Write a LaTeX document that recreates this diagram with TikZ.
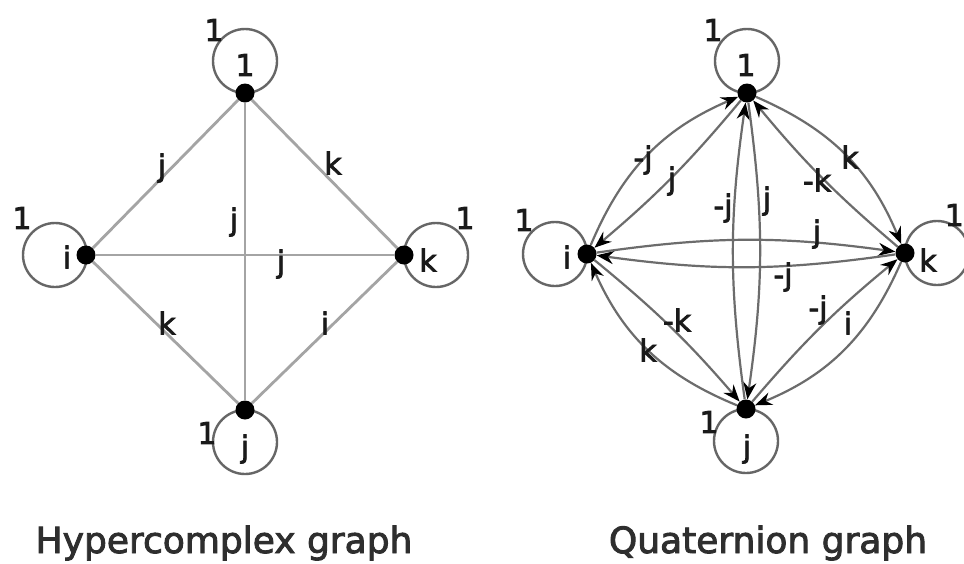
\documentclass[tikz,border=0pt]{standalone}
\usepackage{fontspec}
\setmainfont{DejaVu Sans}
\newfontfamily\lblfont[FakeBold=2.5]{DejaVu Sans}
\usetikzlibrary{arrows.meta}
\definecolor{edgegray}{HTML}{A4A4A4}
\definecolor{loopgray}{HTML}{666666}
\definecolor{curvegray}{HTML}{6C6C6C}
\definecolor{txt}{HTML}{1A1A1A}
\begin{document}
\begin{tikzpicture}[x=1pt,y=-1pt,
  dot/.style={circle,fill=black,inner sep=0pt,minimum size=19pt},
  loopc/.style={circle,draw=loopgray,line width=2.4pt,inner sep=0pt,minimum size=64pt},
  lbl/.style={text=txt,font=\lblfont\fontsize{30}{30}\selectfont,inner sep=0pt},
  hedge/.style={draw=edgegray,line width=2.8pt},
  qedge/.style={draw=curvegray,line width=2.2pt,-{Stealth[length=17pt,width=13pt,color=black]}},
  title/.style={text=black!82,font=\lblfont\fontsize{36}{36}\selectfont,anchor=base,inner sep=0pt}]
\useasboundingbox (0,0) rectangle (964,563);
\fill[white] (0,0) rectangle (964,563);

% ---------- Hypercomplex graph ----------
\node[loopc] (hL1) at (245,61) {};
\node[loopc] (hLi) at (55,255) {};
\node[loopc] (hLk) at (436,255) {};
\node[loopc] (hLj) at (245,442) {};
\node[dot] (h1) at (245,93) {};
\node[dot] (hi) at (86,255) {};
\node[dot] (hk) at (404,255) {};
\node[dot] (hj) at (245,410) {};
\draw[hedge] (h1) -- (hi);
\draw[hedge] (h1) -- (hk);
\draw[hedge] (h1) -- (hj);
\draw[hedge] (hi) -- (hk);
\draw[hedge] (hi) -- (hj);
\draw[hedge] (hk) -- (hj);
% vertex and loop labels
\node[lbl] (ht1) at (245,65) {1};
\node[lbl] (hti) at (67,257) {i};
\node[lbl] (htk) at (428,260) {k};
\node[lbl] (htj) at (245,449) {j};
\node[lbl] (ho1) at (214,30) {1};
\node[lbl] (hoi) at (22,218) {1};
\node[lbl] (hok) at (465,218) {1};
\node[lbl] (hoj) at (207,433) {1};
% edge labels
\node[lbl] (he1) at (162,168) {j};
\node[lbl] (he2) at (333,163) {k};
\node[lbl] (he3) at (234,222) {j};
\node[lbl] (he4) at (281,264) {j};
\node[lbl] (he5) at (167,323) {k};
\node[lbl] (he6) at (325,323) {i};

% ---------- Quaternion graph ----------
\node[loopc] (qL1) at (747,61) {};
\node[loopc] (qLi) at (555,254) {};
\node[loopc] (qLk) at (937,253) {};
\node[loopc] (qLj) at (746,441) {};
\node[dot] (q1) at (747,93) {};
\node[dot] (qi) at (587,254) {};
\node[dot] (qk) at (905,253) {};
\node[dot] (qj) at (746,409) {};
\draw[qedge] (qi) to[bend left=22] (q1);
\draw[qedge] (q1) to[bend left=5] (qi);
\draw[qedge] (q1) to[bend left=22] (qk);
\draw[qedge] (qk) to[bend left=5] (q1);
\draw[qedge] (qj) to[bend left=8] (q1);
\draw[qedge] (q1) to[bend left=8] (qj);
\draw[qedge] (qi) to[bend left=8] (qk);
\draw[qedge] (qk) to[bend left=8] (qi);
\draw[qedge] (qj) to[bend left=22] (qi);
\draw[qedge] (qi) to[bend left=5] (qj);
\draw[qedge] (qk) to[bend left=22] (qj);
\draw[qedge] (qj) to[bend left=5] (qk);
% vertex and loop labels
\node[lbl] (qt1) at (746,65) {1};
\node[lbl] (qti) at (567,257) {i};
\node[lbl] (qtk) at (928,260) {k};
\node[lbl] (qtj) at (747,449) {j};
\node[lbl] (qo1) at (713,30) {1};
\node[lbl] (qoi) at (524,220) {1};
\node[lbl,anchor=east] (qok) at (964,215) {1};
\node[lbl] (qoj) at (709,422) {1};
% edge labels
\node[lbl] (qe1) at (643,160) {-j};
\node[lbl] (qe2) at (672,181) {j};
\node[lbl] (qe3) at (850,157) {k};
\node[lbl] (qe4) at (817,180) {-k};
\node[lbl] (qe5) at (723,208) {-j};
\node[lbl] (qe6) at (767,201) {j};
\node[lbl] (qe7) at (817,234) {j};
\node[lbl] (qe8) at (783,277) {-j};
\node[lbl] (qe9) at (648,350) {k};
\node[lbl] (qe10) at (677,320) {-k};
\node[lbl] (qe11) at (818,310) {-j};
\node[lbl] (qe12) at (848,323) {i};

% ---------- titles ----------
\node[title] (t1) at (224,553) {Hypercomplex graph};
\node[title] (t2) at (768,553) {Quaternion graph};
\end{tikzpicture}
\end{document}
